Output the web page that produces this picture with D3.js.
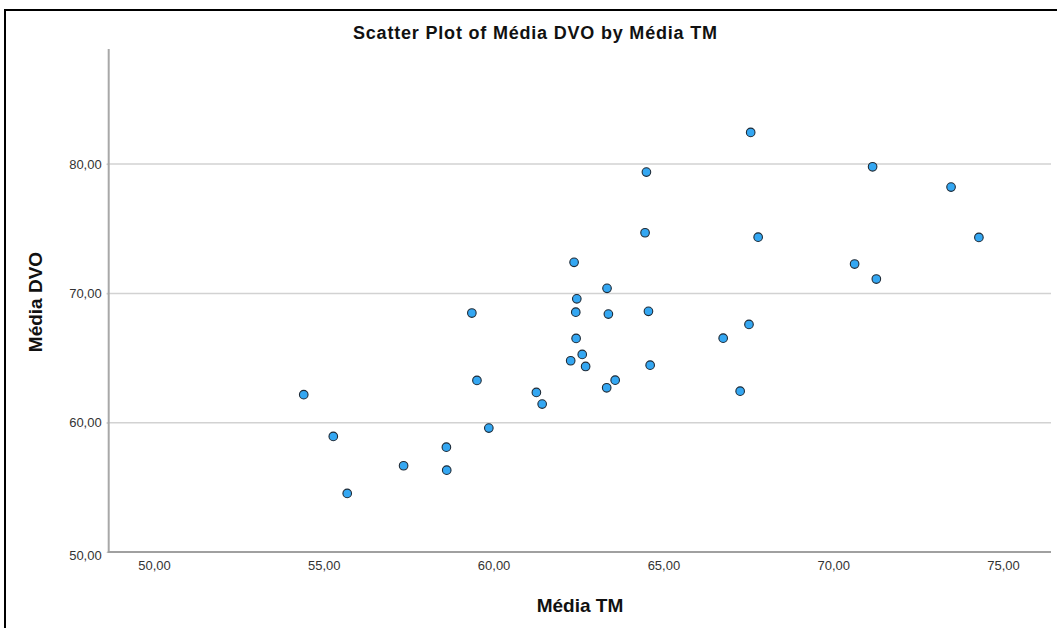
<!DOCTYPE html>
<html>
<head>
<meta charset="utf-8">
<script src="https://cdn.jsdelivr.net/npm/d3@7"></script>
<style>
  html, body { margin: 0; padding: 0; background: #fff; }
  svg { display: block; }
</style>
</head>
<body>
<svg id="chart" width="1057" height="628"></svg>
<script>
// ---- data ----
const mediaTM = [54.41, 55.28, 55.69, 57.35, 58.61, 58.62, 59.36, 59.51, 59.86, 61.26,
                 61.43, 62.27, 62.37, 62.45, 62.42, 62.43, 62.61, 62.71, 63.33, 63.58,
                 63.34, 63.38, 64.50, 64.46, 64.56, 64.61, 66.76, 67.26, 67.52, 67.57,
                 67.79, 70.63, 71.16, 71.27, 73.47, 74.29];
const mediaDVO = [62.17, 58.94, 54.53, 56.67, 58.11, 56.33, 68.48, 63.27, 59.58, 62.34,
                  61.44, 64.79, 72.40, 69.58, 68.55, 66.52, 65.28, 64.35, 62.70, 63.29,
                  70.39, 68.40, 79.38, 74.69, 68.61, 64.45, 66.54, 62.44, 67.60, 82.45,
                  74.35, 72.27, 79.79, 71.11, 78.22, 74.33];
const xTicks = [50, 55, 60, 65, 70, 75];
const yTicks = [50, 60, 70, 80];
const xDomain = [48.667, 76.413];
const yDomain = [50, 88.9];
const titleText = "Scatter Plot of Média DVO by Média TM";
const xLabel = "Média TM";
const yLabel = "Média DVO";

(function () {
const fmt = v => d3.format(".2f")(v).replace(".", ",");
const FONT = "Liberation Sans, Arial, sans-serif";

const svg = d3.select("#chart");
const pLeft = 108.7, pRight = 1051, pTop = 49, pBottom = 552;

const x = d3.scaleLinear().domain(xDomain).range([pLeft, pRight]);
const y = d3.scaleLinear().domain(yDomain).range([pBottom, pTop]);

// outer frame (cropped)
svg.append("path")
  .attr("d", "M5,640 L5,10 L1070,10")
  .attr("fill", "none").attr("stroke", "#000").attr("stroke-width", 2);

// gridlines
svg.append("g").selectAll("line")
  .data(yTicks.filter(t => t > yDomain[0]))
  .join("line")
  .attr("x1", pLeft - 2).attr("x2", pRight)
  .attr("y1", d => y(d)).attr("y2", d => y(d))
  .attr("stroke", "#d2d2d2").attr("stroke-width", 1.5);

// y axis
const yAxis = svg.append("g")
  .attr("transform", `translate(${pLeft},0)`)
  .call(d3.axisLeft(y).tickValues(yTicks).tickFormat(fmt).tickSize(2).tickPadding(5));
yAxis.select(".domain").remove();
yAxis.selectAll(".tick line").attr("stroke", "#c8c8c8");
yAxis.selectAll("text").attr("font-family", FONT)
  .attr("font-size", 13).attr("fill", "#333");
yAxis.select(".tick:first-of-type text").attr("dy", "0.55em");
svg.append("line")
  .attr("x1", pLeft).attr("x2", pLeft).attr("y1", pTop).attr("y2", pBottom)
  .attr("stroke", "#a8a8a8").attr("stroke-width", 2);

// x axis
const xAxis = svg.append("g")
  .attr("transform", `translate(0,${pBottom})`)
  .call(d3.axisBottom(x).tickValues(xTicks).tickFormat(fmt).tickSize(0).tickPadding(9));
xAxis.select(".domain").remove();
xAxis.selectAll("text").attr("font-family", FONT)
  .attr("font-size", 13).attr("fill", "#333");
svg.append("line")
  .attr("x1", pLeft - 1).attr("x2", pRight).attr("y1", pBottom).attr("y2", pBottom)
  .attr("stroke", "#a0a0a0").attr("stroke-width", 2);

// points
svg.append("g").selectAll("circle")
  .data(mediaTM.map((v, i) => [v, mediaDVO[i]]))
  .join("circle")
  .attr("cx", d => x(d[0])).attr("cy", d => y(d[1]))
  .attr("r", 4.3)
  .attr("fill", "#34a7f2").attr("stroke", "#1e2a36").attr("stroke-width", 1.1);

// titles
svg.append("text")
  .attr("x", 535).attr("y", 39)
  .attr("text-anchor", "middle")
  .attr("font-family", FONT)
  .attr("font-weight", "bold").attr("font-size", 18).attr("fill", "#111")
  .attr("textLength", 364).attr("lengthAdjust", "spacing")
  .text(titleText);

svg.append("text")
  .attr("x", 580).attr("y", 612)
  .attr("text-anchor", "middle")
  .attr("font-family", FONT)
  .attr("font-weight", "bold").attr("font-size", 19).attr("fill", "#111")
  .text(xLabel);

svg.append("text")
  .attr("transform", "translate(42,302) rotate(-90)")
  .attr("text-anchor", "middle")
  .attr("font-family", FONT)
  .attr("font-weight", "bold").attr("font-size", 19).attr("fill", "#111")
  .text(yLabel);
})();
</script>
</body>
</html>
